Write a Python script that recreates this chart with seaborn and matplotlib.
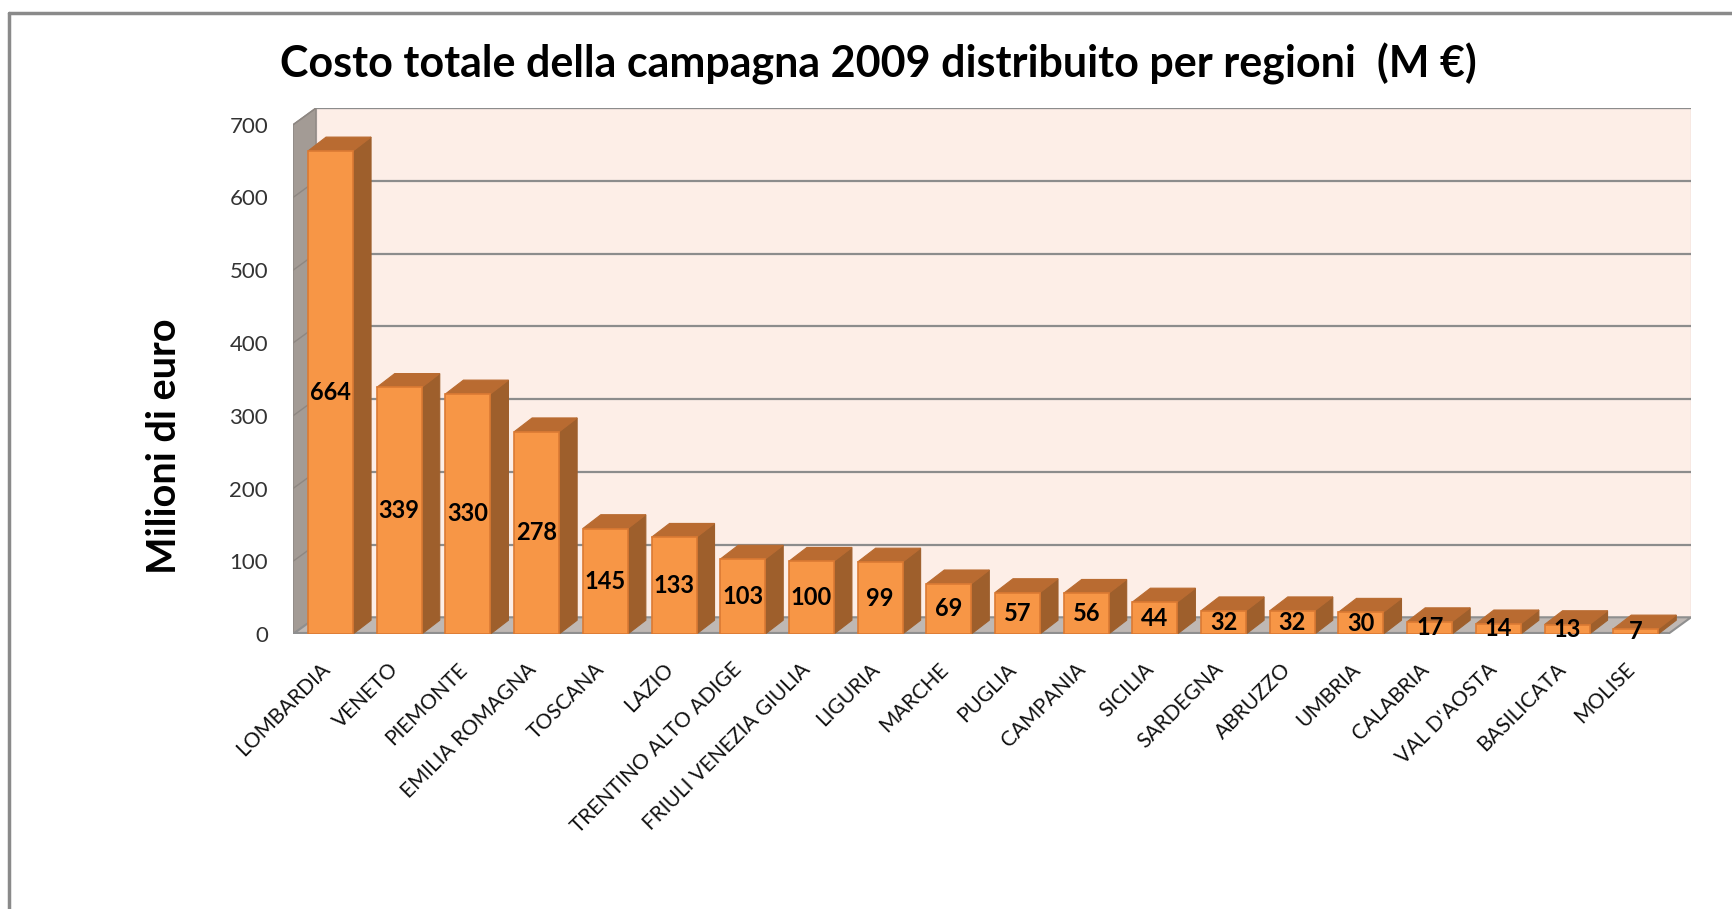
import pandas as pd
import seaborn as sns
import matplotlib.pyplot as plt
import matplotlib.transforms as mtrans
from matplotlib.patches import Polygon, Rectangle
from matplotlib.lines import Line2D

regioni = ['LOMBARDIA', 'VENETO', 'PIEMONTE', 'EMILIA ROMAGNA', 'TOSCANA', 'LAZIO',
           'TRENTINO ALTO ADIGE', 'FRIULI VENEZIA GIULIA', 'LIGURIA', 'MARCHE', 'PUGLIA',
           'CAMPANIA', 'SICILIA', 'SARDEGNA', 'ABRUZZO', 'UMBRIA', 'CALABRIA',
           "VAL D'AOSTA", 'BASILICATA', 'MOLISE']
costi = [664, 339, 330, 278, 145, 133, 103, 100, 99, 69, 57, 56, 44, 32, 32, 30, 17, 14, 13, 7]
y_ticks = [0, 100, 200, 300, 400, 500, 600, 700]

df = pd.DataFrame({'Regione': regioni, 'Costo': costi})

sns.set_style('white')
plt.rcParams['font.family'] = ['Lato', 'DejaVu Sans']

fig = plt.figure(figsize=(17.33, 9.09), dpi=100)
ax = fig.add_axes([0.1691, 0.3025, 0.8067, 0.5787])

# finta prospettiva 3D: spostamento della parete di fondo e profondita' delle barre
wall_dx, wall_dy = 0.335, 23
bar_dx, bar_dy = 0.262, 19
x0 = -0.546
x1 = len(regioni) - 0.53 + wall_dx
ymax = y_ticks[-1]

sns.barplot(data=df, x='Regione', y='Costo', color='#F79646', width=0.655, saturation=1,
            edgecolor='#DB7A33', linewidth=1.2, ax=ax, zorder=2)
barre = list(ax.containers[0])

# parete di fondo, parete sinistra, pavimento
ax.add_patch(Rectangle((x0 + wall_dx, wall_dy), x1 - x0 - wall_dx, ymax, facecolor='#FDEEE7',
                       edgecolor='#E3D3CE', linewidth=1, zorder=0.5))
ax.add_patch(Polygon([(x0, 0), (x0 + wall_dx, wall_dy), (x0 + wall_dx, ymax + wall_dy), (x0, ymax)],
                     closed=True, facecolor='#A39B95', edgecolor='#8C8682', linewidth=1, zorder=0.5))
ax.add_patch(Polygon([(x0, 0), (x1 - wall_dx, 0), (x1, wall_dy), (x0 + wall_dx, wall_dy)],
                     closed=True, facecolor='#BFB8B4', edgecolor='#8F8F8F', linewidth=1.5, zorder=0.6))
ax.plot([x0, x1 - wall_dx], [0, 0], color='#8F8F8F', linewidth=3, zorder=0.7)
for t in y_ticks[1:]:
    ax.plot([x0 + wall_dx, x1], [t + wall_dy, t + wall_dy], color='#8C8C8C', linewidth=1.6, zorder=0.6)
    ax.plot([x0, x0 + wall_dx], [t, t + wall_dy], color='#8E8782', linewidth=1, zorder=0.6)

for p, v in zip(barre, costi):
    xl = p.get_x()
    xr = xl + p.get_width()
    h = p.get_height()
    ax.add_patch(Polygon([(xr, 0), (xr + bar_dx, bar_dy), (xr + bar_dx, h + bar_dy), (xr, h)],
                         closed=True, facecolor='#9E5F2C', edgecolor='#9E5F2C', linewidth=0.8, zorder=1.9))
    ax.add_patch(Polygon([(xl, h), (xr, h), (xr + bar_dx, h + bar_dy), (xl + bar_dx, h + bar_dy)],
                         closed=True, facecolor='#B96B31', edgecolor='#B96B31', linewidth=0.8, zorder=1.9))
    ax.text(xl + p.get_width() / 2, h / 2, str(v), ha='center', va='center',
            fontsize=17, fontweight='bold', color='black', zorder=3)

ax.set_xlim(x0, x1)
ax.set_ylim(0, ymax + wall_dy)
ax.set_yticks(y_ticks)
ax.set_yticklabels([str(t) for t in y_ticks], fontsize=16, color='#333333')
ax.tick_params(axis='y', length=0, pad=18)
ax.tick_params(axis='x', length=0, pad=18)
sposta = mtrans.ScaledTranslation(-0.11, 0, fig.dpi_scale_trans)
for lab in ax.get_xticklabels():
    lab.set_rotation(45)
    lab.set_ha('right')
    lab.set_va('top')
    lab.set_rotation_mode('anchor')
    lab.set_fontsize(15)
    lab.set_color('#111111')
    lab.set_transform(lab.get_transform() + sposta)
for s in ax.spines.values():
    s.set_visible(False)
ax.patch.set_alpha(0)

ax.set_xlabel('')
ax.set_ylabel('Milioni di euro', fontsize=28.5, fontweight='bold', color='black')
ax.yaxis.set_label_coords(-0.079, 0.357)

fig.text(0.5066, 0.9296, 'Costo totale della campagna 2009 distribuito per regioni  (M €)',
         ha='center', va='center', fontsize=31, fontweight='bold', color='black')

# cornice del grafico
fig.add_artist(Line2D([9 / 1733, 9 / 1733], [0, 1 - 13 / 909], color='#8A8A8A', linewidth=2.5))
fig.add_artist(Line2D([9 / 1733, 1], [1 - 13 / 909, 1 - 13 / 909], color='#8A8A8A', linewidth=2.5))

plt.savefig('out.png', dpi=100, facecolor='white')
plt.close()
